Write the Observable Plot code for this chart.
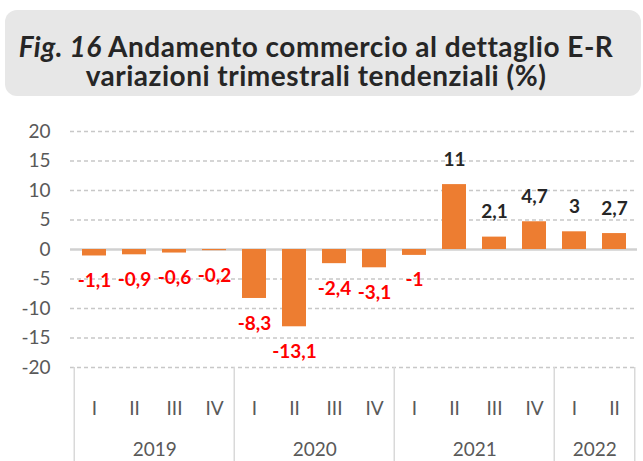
<!DOCTYPE html>
<html><head><meta charset="utf-8">
<script src="https://cdn.jsdelivr.net/npm/d3@7"></script>
<script src="https://cdn.jsdelivr.net/npm/@observablehq/plot@0.6"></script>
<style>
body{margin:0;background:#fff;width:643px;height:461px;overflow:hidden;position:relative;font-family:Lato,sans-serif}
#title{position:absolute;left:5px;top:10px;width:636px;height:86px;background:#e7e7e7;border-radius:12px;text-align:center;color:#262626;font-weight:700;font-size:28px;line-height:29px;letter-spacing:0.5px;box-sizing:border-box;padding-top:22px;padding-right:14px;white-space:nowrap}
#chart{position:absolute;left:0;top:105px}
</style></head><body>
<div id="title"><i>Fig. 16</i> Andamento commercio al dettaglio E-R<br>variazioni trimestrali tendenziali (%)</div>
<div id="chart"></div>
<script>
const quarters = ["I","II","III","IV","I","II","III","IV","I","II","III","IV","I","II"];
const years = ["2019","2019","2019","2019","2020","2020","2020","2020","2021","2021","2021","2021","2022","2022"];
const values = [-1.1,-0.9,-0.6,-0.2,-8.3,-13.1,-2.4,-3.1,-1,11,2.1,4.7,3,2.7];
const yTicks = [20,15,10,5,0,-5,-10,-15,-20];

const data = values.map((v,i)=>({key: years[i]+"-"+quarters[i], year: years[i], q: quarters[i], v}));
const keys = data.map(d=>d.key);
const W=643, H=356, mL=70, mR=6, mT=26, mB=94;
const step = (W-mL-mR)/keys.length;
const yMin = d3.min(yTicks), yMax = d3.max(yTicks);
const unitPx = (H-mT-mB)/(yMax-yMin);
const yBottom = yMin - mB/unitPx;
const yearStarts = data.filter((d,i)=> i===0 || d.year!==data[i-1].year).map(d=>d.key);
const lastKey = keys[keys.length-1];
const yearGroups = d3.groups(data, d=>d.year).map(([y,arr])=>({year:y, key: arr[Math.floor((arr.length-1)/2)].key}));
const fmt = v => String(v).replace(".", ",");

const plot = Plot.plot({
  width: W, height: H,
  marginLeft: mL, marginRight: mR, marginTop: mT, marginBottom: mB,
  style: {fontFamily: "Lato, sans-serif", fontSize: "19px", background: "transparent", overflow: "visible"},
  x: {domain: keys, paddingInner: 0.4, paddingOuter: 0.2, axis: null},
  y: {domain: [yMin, yMax], axis: null, label: null},
  marks: [
    Plot.ruleY(yTicks.filter(t=>t!==0), {stroke: "#c8c8c8", strokeDasharray: "4,3", strokeWidth: 1.5}),
    Plot.ruleY([0], {stroke: "#d0d0d0", strokeWidth: 2.5}),
    Plot.axisY(yTicks, {tickSize: 0, tickPadding: 20, tickFormat: d => String(d), color: "#595959", fontSize: 19, label: null}),
    Plot.barY(data, {x: "key", y: "v", fill: "#ed7d31"}),
    Plot.text(data.filter(d=>d.v<0), {x: "key", y: "v", text: d=>fmt(d.v), dy: 25, fill: "#ff0000", fontWeight: "bold", fontSize: 19}),
    Plot.text(data.filter(d=>d.v>=0), {x: "key", y: "v", text: d=>fmt(d.v), dy: -25, fill: "#262626", fontWeight: "bold", fontSize: 19}),
    Plot.ruleX(yearStarts, {x: d=>d, y1: yMin, y2: yBottom, dx: -step/2, stroke: "#d9d9d9", strokeWidth: 1.5}),
    Plot.ruleX([lastKey], {x: d=>d, y1: yMin, y2: yBottom, dx: step/2, stroke: "#d9d9d9", strokeWidth: 1.5}),
    Plot.text(data, {x: "key", text: "q", frameAnchor: "bottom", dy: 47, fill: "#595959", fontSize: 19}),
    Plot.text(yearGroups, {x: "key", text: "year", frameAnchor: "bottom", dy: 88, dx: step/2, fill: "#595959", fontSize: 19})
  ]
});
document.getElementById("chart").appendChild(plot);
</script>
</body></html>
